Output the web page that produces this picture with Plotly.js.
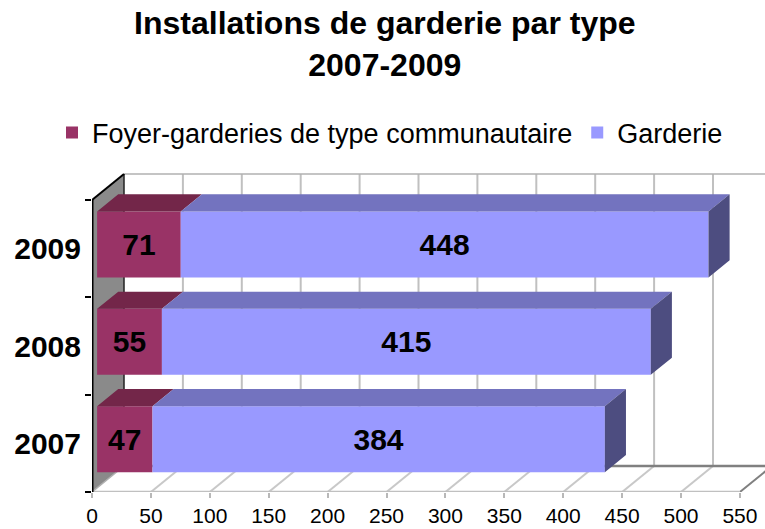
<!DOCTYPE html>
<html>
<head>
<meta charset="utf-8">
<script src="https://cdn.plot.ly/plotly-3.0.1.min.js"></script>
<style>html,body{margin:0;padding:0;background:#fff;}#chart{width:765px;height:529px;}</style>
</head>
<body>
<div id="chart"></div>
<script>
// ---- data ----
const categories = ['2007', '2008', '2009'];
const foyer = [47, 55, 71];
const garderie = [384, 415, 448];
const xTickVals = [0, 50, 100, 150, 200, 250, 300, 350, 400, 450, 500, 550];
const seriesNames = ['Foyer-garderies de type communautaire', 'Garderie'];

// ---- styling / geometry constants ----
const FONT = 'Liberation Sans, Arial, sans-serif';
const PXX = 1.178;           // px per x unit
const PXY = 97.33;           // px per category
const L = 92, B = 37, T = 170, W = 765, H = 529;
const XMAX = (W - L) / PXX;
const YMIN = -0.5, YMAX = -0.5 + (H - B - T) / PXY;
const DX = 32 / PXX;         // depth offset in x units
const DY = 26 / PXY;         // depth offset in y units
const D0 = 0.16, D1 = 0.82;  // bar depth span
const BW = 0.678;            // bar thickness
const XMAXV = 550;

const idx = categories.map((c, i) => i);
const col = {
  fFront: '#993366', fTop: '#732649',
  gFront: '#9999FF', gTop: '#7373BF', gSide: '#4D4D80'
};

// front faces (library bars)
const off = D0 * DX;
const yc = idx.map(i => i + D0 * DY);
const traces = [
  {
    type: 'bar', orientation: 'h', name: seriesNames[0],
    x: foyer, y: yc, base: foyer.map(() => off), width: BW,
    marker: {color: col.fFront, line: {width: 0}},
    text: foyer.map(String), textposition: 'inside', insidetextanchor: 'middle',
    insidetextfont: {family: FONT, size: 30, color: '#000', weight: 'bold'},
    constraintext: 'none', hoverinfo: 'skip'
  },
  {
    type: 'bar', orientation: 'h', name: seriesNames[1],
    x: garderie, y: yc, base: foyer.map(f => off + f), width: BW,
    marker: {color: col.gFront, line: {width: 0}},
    text: garderie.map(String), textposition: 'inside', insidetextanchor: 'middle',
    insidetextfont: {family: FONT, size: 30, color: '#000', weight: 'bold'},
    constraintext: 'none', hoverinfo: 'skip'
  }
];

// 3D top and side faces computed from data
const ddx = (D1 - D0) * DX, ddy = (D1 - D0) * DY;
function topPoly(starts, ends) {
  const xs = [], ys = [];
  idx.forEach(i => {
    const x0 = off + starts[i], x1 = off + ends[i], yt = yc[i] + BW / 2;
    xs.push(x0, x1, x1 + ddx, x0 + ddx, x0, null);
    ys.push(yt, yt, yt + ddy, yt + ddy, yt, null);
  });
  return {xs, ys};
}
function sidePoly(ends) {
  const xs = [], ys = [];
  idx.forEach(i => {
    const x1 = off + ends[i], yt = yc[i] + BW / 2, yb = yc[i] - BW / 2;
    xs.push(x1, x1, x1 + ddx, x1 + ddx, x1, null);
    ys.push(yb, yt, yt + ddy, yb + ddy, yb, null);
  });
  return {xs, ys};
}
const totals = idx.map(i => foyer[i] + garderie[i]);
const fTop = topPoly(foyer.map(() => 0), foyer);
const gTop = topPoly(foyer, totals);
const gSide = sidePoly(totals);
[[fTop, col.fTop], [gTop, col.gTop], [gSide, col.gSide]].forEach(([p, c]) => {
  traces.push({
    type: 'scatter', mode: 'lines', x: p.xs, y: p.ys, fill: 'toself',
    fillcolor: c, line: {width: 0, color: c}, showlegend: false, hoverinfo: 'skip'
  });
});
// dummy trace for label axis
traces.push({type: 'scatter', mode: 'none', x: [0], y: [0], yaxis: 'y2', showlegend: false, hoverinfo: 'skip'});

// walls, floor and gridlines (decoration)
const shapes = [];
const yF = YMIN, yTop = 2.5;
xTickVals.filter(v => v > 0).forEach(v => {
  shapes.push({type: 'line', layer: 'below', xref: 'x', yref: 'y',
    x0: v + DX, x1: v + DX, y0: yF + DY, y1: yTop + DY, line: {color: '#c0c0c0', width: 2}});
});
shapes.push({type: 'line', layer: 'below', xref: 'x', yref: 'y',
  x0: DX, x1: XMAXV + DX, y0: yTop + DY, y1: yTop + DY, line: {color: '#b0b0b0', width: 1.5}});
xTickVals.filter(v => v > 0 && v < XMAXV).forEach(v => {
  shapes.push({type: 'line', layer: 'below', xref: 'x', yref: 'y',
    x0: v, x1: v + DX, y0: yF, y1: yF + DY, line: {color: '#c8c8c8', width: 2}});
});
shapes.push({type: 'line', layer: 'below', xref: 'x', yref: 'y',
  x0: DX, x1: XMAXV + DX, y0: yF + DY, y1: yF + DY, line: {color: '#808080', width: 2.5}});
shapes.push({type: 'line', layer: 'below', xref: 'x', yref: 'y',
  x0: XMAXV, x1: XMAXV + DX, y0: yF, y1: yF + DY, line: {color: '#808080', width: 2}});
shapes.push({type: 'line', layer: 'below', xref: 'x', yref: 'y',
  x0: 0, x1: XMAXV, y0: yF, y1: yF, line: {color: '#c0c0c0', width: 2.5}});
// side wall
shapes.push({type: 'path', layer: 'below', xref: 'x', yref: 'y',
  path: `M0,${yF} L0,${yTop} L${DX},${yTop + DY} L${DX},${yF + DY} Z`,
  fillcolor: '#8a8a8a', line: {width: 0}});
shapes.push({type: 'line', layer: 'below', xref: 'x', yref: 'y',
  x0: 0, x1: DX, y0: yF, y1: yF + DY, line: {color: '#b0b0b0', width: 1.5}});
shapes.push({type: 'line', layer: 'below', xref: 'x', yref: 'y',
  x0: DX, x1: DX, y0: yF + DY, y1: yTop + DY, line: {color: '#222', width: 1.5}});
shapes.push({type: 'line', layer: 'below', xref: 'x', yref: 'y',
  x0: 0, x1: DX, y0: yTop, y1: yTop + DY, line: {color: '#000', width: 2}});
shapes.push({type: 'line', layer: 'below', xref: 'x', yref: 'y',
  x0: 0, x1: 0, y0: yF, y1: yTop, line: {color: '#000', width: 3}});

const layout = {
  width: W, height: H,
  margin: {l: L, r: 0, t: T, b: B, pad: 0},
  paper_bgcolor: '#fff', plot_bgcolor: 'rgba(0,0,0,0)',
  font: {family: FONT, color: '#000'},
  title: {
    text: 'Installations de garderie par type<br>2007-2009',
    font: {family: FONT, size: 32, color: '#000', weight: 'bold'},
    x: 0.503, xanchor: 'center', yref: 'container', y: 0.935, yanchor: 'top'
  },
  showlegend: true,
  legend: {
    orientation: 'h', xref: 'container', x: 52 / W, xanchor: 'left', yref: 'container',
    y: 1 - 133 / H, yanchor: 'middle', font: {family: FONT, size: 27, color: '#000'},
    traceorder: 'normal', itemclick: false, itemdoubleclick: false, bgcolor: 'rgba(0,0,0,0)'
  },
  barmode: 'overlay',
  xaxis: {
    range: [0, XMAX], showgrid: false, zeroline: false, showline: false,
    tickmode: 'array', tickvals: xTickVals, ticktext: xTickVals.map(String),
    ticks: 'outside', ticklen: 5, tickwidth: 2, tickcolor: '#b8b8b8',
    tickfont: {family: FONT, size: 21, color: '#000'}, fixedrange: true
  },
  yaxis: {
    range: [YMIN, YMAX], showgrid: false, zeroline: false, showline: false,
    tickmode: 'array', tickvals: [-0.5, 0.5, 1.5, 2.5], ticks: 'outside',
    ticklen: 6, tickwidth: 2, tickcolor: '#000', showticklabels: false, fixedrange: true
  },
  yaxis2: {
    overlaying: 'y', side: 'left', range: [YMIN, YMAX], showgrid: false, zeroline: false,
    showline: false, tickmode: 'array', tickvals: idx, ticktext: categories, ticks: '',
    ticklabelstandoff: 10,
    tickfont: {family: FONT, size: 30, color: '#000', weight: 'bold'}, fixedrange: true
  },
  shapes: shapes
};

Plotly.newPlot('chart', traces, layout, {displayModeBar: false, staticPlot: true});
</script>
</body>
</html>
